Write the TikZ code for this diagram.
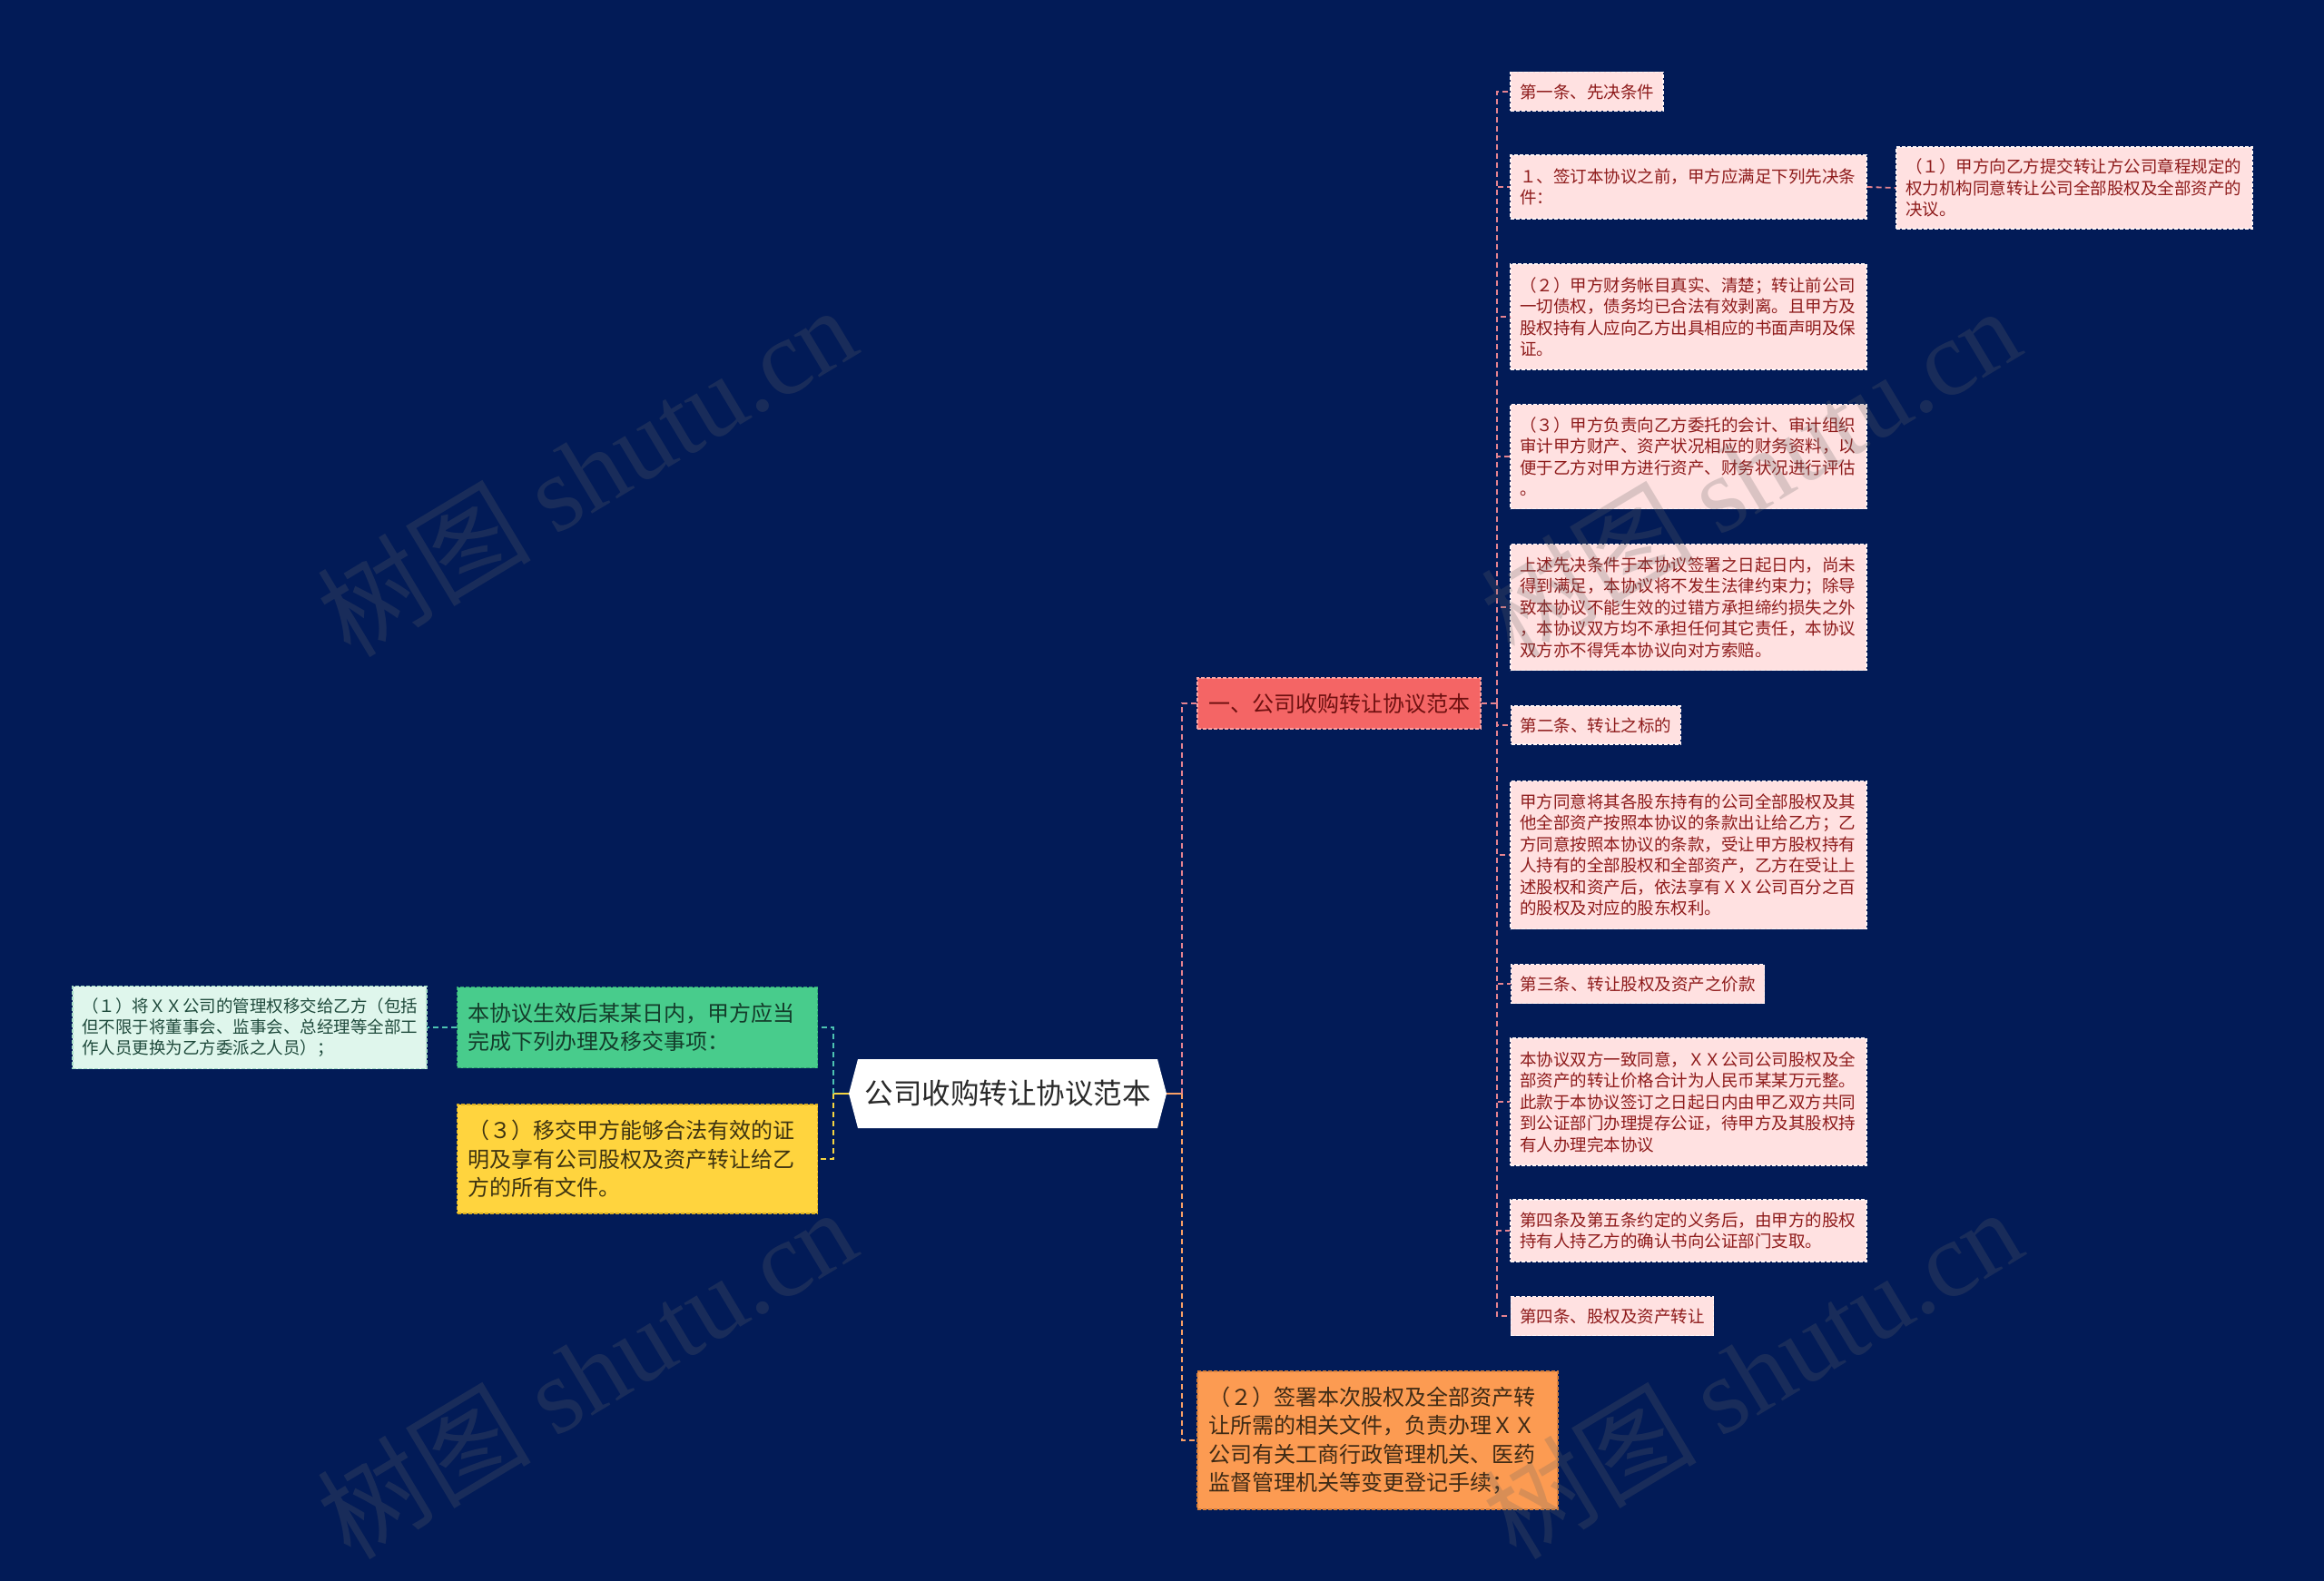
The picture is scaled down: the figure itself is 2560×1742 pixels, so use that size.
\documentclass[tikz,border=0pt]{standalone}
\usepackage{fontspec}
\setmainfont{Noto Sans CJK SC}
\newfontfamily\wmserif{Liberation Serif}
\newfontfamily\wmcjk{Noto Sans CJK SC}
\definecolor{bg}{HTML}{021B57}
\definecolor{pinkfill}{HTML}{FFE1E1}
\definecolor{pinktext}{HTML}{8E1B1B}
\definecolor{pinkborder}{HTML}{FFF4F4}
\definecolor{pinkline}{HTML}{E58390}
\definecolor{redfill}{HTML}{F46565}
\definecolor{redtext}{HTML}{6E1010}
\definecolor{redborder}{HTML}{FBA3A3}
\definecolor{orangefill}{HTML}{FC9B52}
\definecolor{orangetext}{HTML}{3E2A15}
\definecolor{orangeborder}{HTML}{D77F3A}
\definecolor{orangeline}{HTML}{F9A066}
\definecolor{greenfill}{HTML}{48CC8C}
\definecolor{greentext}{HTML}{143D2B}
\definecolor{greenborder}{HTML}{2FA571}
\definecolor{yellowfill}{HTML}{FFD43E}
\definecolor{yellowtext}{HTML}{3D3311}
\definecolor{yellowborder}{HTML}{D8AE22}
\definecolor{lgreenfill}{HTML}{DFF6EC}
\definecolor{lgreentext}{HTML}{1F4A3C}
\definecolor{lgreenborder}{HTML}{A5DCC6}
\definecolor{tealline}{HTML}{4DC3B2}
\definecolor{yellowline}{HTML}{F5D441}
\definecolor{roottext}{HTML}{2A2A2A}
\tikzset{
  boxbase/.style={line width=1.2pt, dash pattern=on 4pt off 2pt, inner ysep=0pt, align=left, anchor=center},
  pinkbox/.style={boxbase, fill=pinkfill, draw=pinkborder, text=pinktext,
    font=\fontsize{18.5}{23.5}\selectfont, inner xsep=10pt},
  pinkwide/.style={pinkbox, text width=372pt},
  bigbox/.style={boxbase, font=\fontsize{24}{31.5}\selectfont, inner xsep=12pt},
  redbox/.style={bigbox, fill=redfill, draw=redborder, text=redtext},
  orangebox/.style={bigbox, fill=orangefill, draw=orangeborder, text=orangetext, text width=373pt},
  greenbox/.style={bigbox, fill=greenfill, draw=greenborder, text=greentext, text width=373pt},
  yellowbox/.style={bigbox, fill=yellowfill, draw=yellowborder, text=yellowtext, text width=373pt},
  lgreenbox/.style={boxbase, fill=lgreenfill, draw=lgreenborder, text=lgreentext,
    font=\fontsize{18.5}{23.3}\selectfont, inner xsep=10pt, text width=370pt},
  conn/.style={line width=1.8pt, dash pattern=on 6pt off 4pt},
  pinkconn/.style={conn, draw=pinkline},
  watermark/.style={text=gray!80!black, opacity=0.24, rotate=31, font=\fontsize{118}{118}\selectfont, inner sep=0pt}
}
\begin{document}
\begin{tikzpicture}[x=1pt,y=-1pt]
\useasboundingbox (0,0) rectangle (2560,1742);
\fill[bg] (0,0) rectangle (2560,1742);

% root node (hexagon)
\fill[white] (935,1205) -- (945,1167) -- (1275,1167) -- (1285,1205) -- (1275,1243) -- (945,1243) -- cycle;
\node[minimum width=350pt, minimum height=76pt, inner sep=0pt, text=roottext,
  font=\fontsize{31.5}{34}\selectfont] (root) at (1110,1205) {公司收购转让协议范本};

% level 1
\node[redbox, minimum width=312pt, minimum height=56pt] (red) at (1475,775) {一、公司收购转让协议范本};
\node[orangebox, minimum width=397pt, minimum height=152pt] (orange) at (1517.5,1587)
  {（２）签署本次股权及全部资产转\\让所需的相关文件，负责办理ＸＸ\\公司有关工商行政管理机关、医药\\监督管理机关等变更登记手续；};
\node[greenbox, minimum width=397pt, minimum height=89pt] (green) at (702,1132)
  {本协议生效后某某日内，甲方应当\\完成下列办理及移交事项：};
\node[yellowbox, minimum width=397pt, minimum height=120pt] (yellow) at (702,1277)
  {（３）移交甲方能够合法有效的证\\明及享有公司股权及资产转让给乙\\方的所有文件。};
\node[lgreenbox, minimum width=390pt, minimum height=91pt] (lgreen) at (275,1132)
  {（１）将ＸＸ公司的管理权移交给乙方（包括\\但不限于将董事会、监事会、总经理等全部工\\作人员更换为乙方委派之人员）；};

% right pink nodes
\node[pinkbox, minimum height=43pt] (p1) at (1748,101) {第一条、先决条件};
\node[pinkwide, minimum height=70pt] (p2) at (1860,206)
  {１、签订本协议之前，甲方应满足下列先决条\\件：};
\node[pinkwide, minimum width=391pt, minimum height=90pt] (p3) at (2285,207)
  {（１）甲方向乙方提交转让方公司章程规定的\\权力机构同意转让公司全部股权及全部资产的\\决议。};
\node[pinkwide, minimum height=116pt] (p4) at (1860,349)
  {（２）甲方财务帐目真实、清楚；转让前公司\\一切债权，债务均已合法有效剥离。且甲方及\\股权持有人应向乙方出具相应的书面声明及保\\证。};
\node[pinkwide, minimum height=115pt] (p5) at (1860,503)
  {（３）甲方负责向乙方委托的会计、审计组织\\审计甲方财产、资产状况相应的财务资料，以\\便于乙方对甲方进行资产、财务状况进行评估\\。};
\node[pinkwide, minimum height=139pt] (p6) at (1860,669)
  {上述先决条件于本协议签署之日起日内，尚未\\得到满足，本协议将不发生法律约束力；除导\\致本协议不能生效的过错方承担缔约损失之外\\，本协议双方均不承担任何其它责任，本协议\\双方亦不得凭本协议向对方索赔。};
\node[pinkbox, minimum height=42pt] (p7) at (1758,799) {第二条、转让之标的};
\node[pinkwide, minimum height=163pt] (p8) at (1860,942)
  {甲方同意将其各股东持有的公司全部股权及其\\他全部资产按照本协议的条款出让给乙方；乙\\方同意按照本协议的条款，受让甲方股权持有\\人持有的全部股权和全部资产，乙方在受让上\\述股权和资产后，依法享有ＸＸ公司百分之百\\的股权及对应的股东权利。};
\node[pinkbox, minimum height=43pt] (p9) at (1804,1084) {第三条、转让股权及资产之价款};
\node[pinkwide, minimum height=140pt] (p10) at (1860,1214)
  {本协议双方一致同意，ＸＸ公司公司股权及全\\部资产的转让价格合计为人民币某某万元整。\\此款于本协议签订之日起日内由甲乙双方共同\\到公证部门办理提存公证，待甲方及其股权持\\有人办理完本协议};
\node[pinkwide, minimum height=68pt] (p11) at (1860,1356)
  {第四条及第五条约定的义务后，由甲方的股权\\持有人持乙方的确认书向公证部门支取。};
\node[pinkbox, minimum height=43pt] (p12) at (1776,1450) {第四条、股权及资产转让};

% connectors: root right
\coordinate (rj) at (1302,1205);
\draw[line width=2pt, draw=orangeline] (root.east) -- (rj);
\draw[pinkconn] (rj) |- (red.west);
\draw[conn, draw=orangeline] (rj) |- (orange.west);

% connectors: root left
\coordinate (lj) at (918,1205);
\draw[line width=2pt, draw=yellowline] (root.west) -- (lj);
\draw[conn, draw=tealline] (lj) |- (green.east);
\draw[conn, draw=yellowline] (lj) |- (yellow.east);
\draw[conn, draw=tealline] (green.west) -- (lgreen.east);

% connectors: red to pink children
\coordinate (pj) at (1649,775);
\draw[pinkconn] (red.east) -- (pj);
\foreach \n in {p1,p2,p4,p5,p6,p7,p8,p9,p10,p11,p12}{
  \draw[pinkconn] (pj) |- (\n.west);
}
\draw[pinkconn] (p2.east) -- (p3.west);

% watermarks
\node[watermark] (wm1) at (646,518) {\wmcjk 树图\ \wmserif shutu.cn};
\node[watermark] (wm2) at (1928,519) {\wmcjk 树图\ \wmserif shutu.cn};
\node[watermark] (wm3) at (646,1512) {\wmcjk 树图\ \wmserif shutu.cn};
\node[watermark] (wm4) at (1930,1512) {\wmcjk 树图\ \wmserif shutu.cn};
\end{tikzpicture}
\end{document}
